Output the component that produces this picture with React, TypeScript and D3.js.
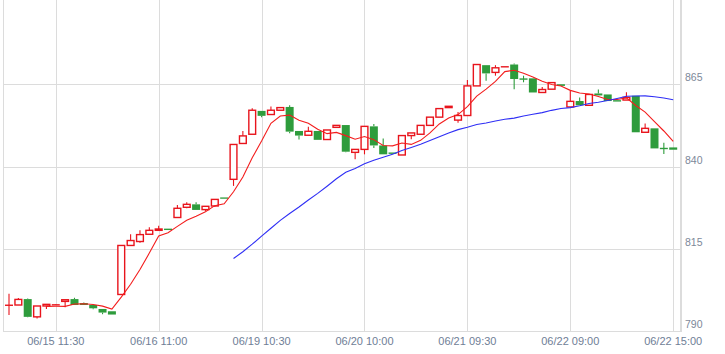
import React, { useEffect, useRef } from 'react';
import * as d3 from 'd3';

// 30-minute bars, 06/15 - 06/22
const opens = [797.8, 797.9, 799.7, 794.3, 797.6, 797.9, 799.0, 799.7, 798.5, 797.9, 796.7, 796.0,
  801.1, 816.0, 817.2, 819.4, 820.6, 821.0, 824.5, 827.6, 828.5, 826.9, 828.0, 830.6,
  836.1, 847.0, 849.8, 856.9, 855.8, 857.1, 858.1, 850.8, 849.5, 850.8, 848.2, 851.9,
  852.6, 844.3, 845.2, 852.2, 846.4, 844.2, 843.5, 849.4, 849.8, 852.5, 855.0, 857.9,
  854.1, 855.5, 864.5, 870.8, 868.6, 870.2, 871.0, 866.6, 866.8, 862.5, 863.5, 865.0,
  858.1, 859.9, 858.6, 862.2, 861.9, 860.1, 860.2, 861.5, 850.4, 851.6, 845.5, 845.8];
const highs = [801.3, 800.0, 799.9, 797.6, 798.1, 798.1, 799.6, 800.1, 798.7, 797.9, 796.7, 796.0,
  816.0, 819.4, 820.6, 821.5, 822.0, 821.0, 828.3, 829.1, 829.1, 827.9, 830.0, 830.6,
  846.7, 850.8, 857.7, 856.9, 858.2, 857.9, 858.6, 850.8, 852.1, 850.8, 851.1, 852.5,
  852.6, 845.2, 852.2, 852.9, 848.5, 844.2, 849.4, 850.2, 852.5, 855.0, 857.6, 858.3,
  856.6, 866.3, 871.0, 870.8, 870.8, 870.4, 871.3, 867.6, 866.8, 864.2, 865.5, 865.0,
  863.0, 861.0, 861.9, 863.4, 861.9, 860.1, 862.6, 861.5, 853.1, 851.6, 847.2, 845.8];
const lows = [794.9, 797.9, 794.2, 793.8, 796.7, 797.9, 797.2, 797.9, 797.9, 796.6, 795.1, 795.0,
  801.1, 816.0, 816.8, 819.4, 820.6, 820.8, 824.5, 827.3, 826.8, 826.5, 827.8, 830.2,
  834.1, 847.0, 849.8, 855.0, 855.8, 857.1, 850.1, 848.2, 849.5, 848.1, 848.2, 851.9,
  844.3, 842.2, 843.7, 845.6, 843.7, 843.9, 843.5, 848.3, 849.8, 852.5, 855.0, 857.9,
  853.3, 855.5, 864.5, 866.1, 867.6, 870.2, 863.5, 865.6, 862.5, 862.5, 863.5, 864.5,
  858.1, 858.6, 858.6, 861.6, 859.9, 859.8, 860.2, 850.4, 850.4, 845.5, 843.8, 845.1];
const closes = [797.85, 799.6, 794.3, 797.6, 798.1, 798.0, 799.5, 797.9, 797.9, 796.9, 795.6, 795.0,
  816.0, 817.5, 819.3, 820.6, 821.0, 820.8, 827.3, 828.5, 826.8, 827.9, 830.0, 830.2,
  846.7, 849.3, 857.1, 855.4, 857.1, 857.9, 850.6, 849.4, 850.7, 848.1, 851.1, 852.5,
  844.5, 845.2, 852.2, 846.4, 843.7, 843.9, 849.4, 850.2, 852.5, 855.0, 857.6, 858.3,
  855.5, 864.5, 871.0, 868.3, 870.0, 870.4, 866.6, 866.55, 862.5, 863.4, 865.5, 864.5,
  859.8, 858.6, 861.9, 861.6, 859.9, 859.8, 861.0, 850.4, 851.6, 845.5, 845.45, 845.1];

// short average, starts at bar 4
const ma5Start = 4;
const ma5 = [797.49, 797.52, 797.5, 798.22, 798.28, 798.04, 797.56, 796.66,
  800.28, 804.2, 808.68, 813.68, 818.88, 819.84, 821.8, 823.64, 824.88, 826.26, 828.1, 828.68,
  832.32, 836.82, 842.66, 847.74, 853.12, 855.36, 855.62, 854.08, 853.14, 851.34, 849.98, 850.36,
  849.38, 848.28, 849.1, 848.16, 846.4, 846.28, 847.12, 846.72, 847.94, 850.2, 852.94, 854.72,
  855.78, 858.18, 861.38, 863.52, 865.86, 868.84, 869.26, 868.37, 867.21, 865.89, 864.91, 864.49,
  863.14, 862.36, 862.06, 861.28, 860.36, 860.36, 860.84, 858.54, 856.54, 853.66, 850.79, 847.61];

// long average, starts at bar 24
const ma25Start = 24;
const ma25 = [812.03, 814.09, 816.39, 818.84, 821.22, 823.61, 825.71, 827.71, 829.82, 831.83, 834.0, 836.27,
  838.25, 839.42, 840.81, 841.89, 842.82, 843.73, 844.88, 845.79, 846.75, 847.88, 849.07, 850.2,
  851.21, 851.92, 852.79, 853.24, 853.82, 854.36, 854.7, 855.34, 855.87, 856.37, 857.07, 857.61,
  857.9, 858.46, 859.13, 859.51, 860.05, 860.69, 861.37, 861.41, 861.47, 861.19, 860.81, 860.31];

const tickBars = [5, 16, 27, 38, 49, 60, 71];
const tickLabels = ['06/15 11:30', '06/16 11:00', '06/19 10:30', '06/20 10:00', '06/21 09:30', '06/22 09:00', '06/22 15:00'];
const priceTicks = [790, 815, 840, 865];

const W = 725, H = 354;
const UP = '#e8141c', DOWN = '#2e9c3c';

function CandleChart() {
  const ref = useRef<SVGSVGElement>(null);

  useEffect(() => {
    const svg = d3.select(ref.current);
    svg.selectAll('*').remove();

    const left = 3, right = 681, top = 0, bottom = 331;
    const x = d3.scaleLinear().domain([0, closes.length - 1]).range([9, 673.2]);
    const y = d3.scaleLinear().domain([790, 890]).range([bottom, 2]);
    const grid = '#dcdcdc';
    const font = "'Liberation Sans', Arial, sans-serif";

    // grid
    svg.append('g').selectAll('line').data(priceTicks).enter().append('line')
      .attr('x1', left).attr('x2', right)
      .attr('y1', (d: number) => Math.round(y(d)) + 0.5).attr('y2', (d: number) => Math.round(y(d)) + 0.5)
      .attr('stroke', grid);
    svg.append('g').selectAll('line').data(tickBars).enter().append('line')
      .attr('x1', (d: number) => Math.round(x(d)) + 0.5).attr('x2', (d: number) => Math.round(x(d)) + 0.5)
      .attr('y1', top).attr('y2', bottom)
      .attr('stroke', grid);
    svg.append('line').attr('x1', left + 0.5).attr('x2', left + 0.5).attr('y1', top).attr('y2', bottom)
      .attr('stroke', grid);
    svg.append('line').attr('x1', right).attr('x2', right).attr('y1', top).attr('y2', bottom + 1)
      .attr('stroke', grid).attr('stroke-width', 2);

    // labels
    svg.append('g').selectAll('text').data(priceTicks).enter().append('text')
      .attr('x', 685).attr('y', (d: number) => y(d) - 3)
      .style('font-family', font).style('font-size', '10.5px').style('fill', '#7d8899')
      .text((d: number) => String(d));
    svg.append('g').selectAll('text').data(tickBars).enter().append('text')
      .attr('x', (d: number) => x(d)).attr('y', 345)
      .attr('text-anchor', 'middle')
      .style('font-family', font).style('font-size', '11px').style('fill', '#6f7e96')
      .text((d: number, i: number) => tickLabels[i]);

    // candles
    const bars = d3.range(closes.length);
    const g = svg.append('g');
    bars.forEach((i: number) => {
      const o = opens[i], c = closes[i], h = highs[i], l = lows[i];
      const up = c >= o;
      const col = up ? UP : DOWN;
      const cx = x(i);
      const yTop = y(Math.max(o, c)), yBot = y(Math.min(o, c));
      // wicks
      g.append('line').attr('x1', cx).attr('x2', cx).attr('y1', y(h)).attr('y2', yTop)
        .attr('stroke', col).attr('stroke-width', 1.1);
      g.append('line').attr('x1', cx).attr('x2', cx).attr('y1', yBot).attr('y2', y(l))
        .attr('stroke', col).attr('stroke-width', 1.1);
      if (yBot - yTop < 1) {
        g.append('line').attr('x1', cx - 4).attr('x2', cx + 4).attr('y1', (yTop + yBot) / 2).attr('y2', (yTop + yBot) / 2)
          .attr('stroke', col).attr('stroke-width', 1.4);
      } else if (up) {
        g.append('rect').attr('x', cx - 3.4).attr('width', 6.8)
          .attr('y', yTop).attr('height', Math.max(yBot - yTop, 1))
          .attr('fill', '#fff').attr('stroke', col).attr('stroke-width', 1.4);
      } else {
        g.append('rect').attr('x', cx - 4).attr('width', 8)
          .attr('y', yTop).attr('height', Math.max(yBot - yTop, 1.2))
          .attr('fill', col);
      }
    });

    // moving averages
    svg.append('path')
      .attr('d', d3.line<number>().x((d: number, i: number) => x(i + ma5Start)).y((d: number) => y(d))(ma5))
      .attr('fill', 'none').attr('stroke', '#f31d1d').attr('stroke-width', 1.1);
    svg.append('path')
      .attr('d', d3.line<number>().x((d: number, i: number) => x(i + ma25Start)).y((d: number) => y(d))(ma25))
      .attr('fill', 'none').attr('stroke', '#2f2ff5').attr('stroke-width', 1.1);
  }, []);

  return <svg ref={ref} width={W} height={H} style={{ position: 'absolute', left: 0, top: 0, background: '#fff' }} />;
}

export default function App() {
  return <CandleChart />;
}
